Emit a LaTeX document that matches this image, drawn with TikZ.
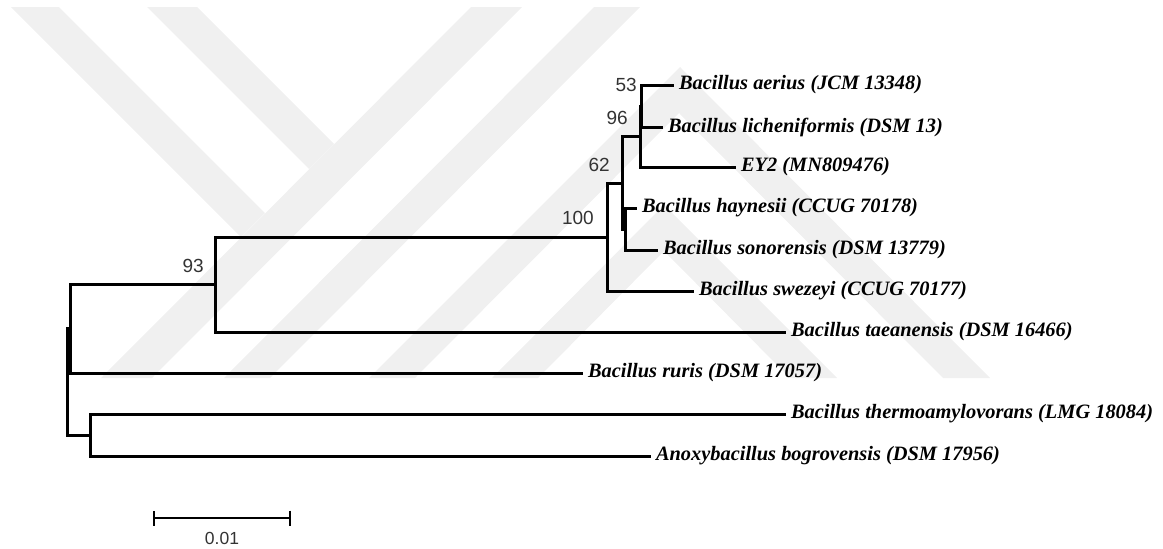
\documentclass[tikz,border=0pt]{standalone}
\usepackage{fontspec}
\setmainfont{Liberation Serif}
\newfontfamily\bootfont{Liberation Sans}
\usetikzlibrary{arrows.meta, calc}

\begin{document}
\begin{tikzpicture}[x=1pt, y=-1pt,
  wmark/.style={fill=black!6},
  branch/.style={line width=3pt, line join=miter},
  leaf/.style={anchor=west, inner sep=0pt, outer sep=5pt, font=\fontsize{20.4}{22}\selectfont\bfseries\itshape},
  boot/.style={anchor=east, inner sep=0pt, font=\bootfont\fontsize{19}{21}\selectfont, text=black!80},
  scalebar/.style={line width=2pt, {Bar[width=15pt]}-{Bar[width=15pt]}}]
\useasboundingbox (0,0) rectangle (1163,549);

% watermark in the background
\fill[wmark] (471,7) -- (522,7) -- (152,378) -- (101,378) -- cycle;
\fill[wmark] (11,7) -- (59,7) -- (265,213) -- (241,237) -- cycle;
\fill[wmark] (147,7) -- (197,7) -- (334,144) -- (309,169) -- cycle;
\fill[wmark] (594,7) -- (640,7) -- (270,378) -- (224,378) -- cycle;
\fill[wmark] (369,378) -- (680,67) -- (990,378) -- (943,378) -- (679,113) -- (415,378) -- cycle;
\fill[wmark] (492,378) -- (664,205) -- (837,378) -- (790,378) -- (664,251) -- (538,378) -- cycle;

% inner nodes of the tree
\coordinate (root) at (67,381.9);
\coordinate (nA) at (70,328.75);
\coordinate (n93) at (215,284.5);
\coordinate (n100) at (607,237);
\coordinate (n62) at (622,183);
\coordinate (n96) at (640,136.5);
\coordinate (n53) at (641,106);
\coordinate (nHS) at (625,229);
\coordinate (nTB) at (90,435);

% leaves
\node[leaf] (aerius) at (674,85) {Bacillus aerius (JCM 13348)};
\node[leaf] (lichen) at (663,127) {Bacillus licheniformis (DSM 13)};
\node[leaf] (ey2) at (736,167) {EY2 (MN809476)};
\node[leaf] (hayn) at (637,208) {Bacillus haynesii (CCUG 70178)};
\node[leaf] (sonor) at (658,250) {Bacillus sonorensis (DSM 13779)};
\node[leaf] (swez) at (694,291) {Bacillus swezeyi (CCUG 70177)};
\node[leaf] (taean) at (786,332) {Bacillus taeanensis (DSM 16466)};
\node[leaf] (ruris) at (583,373) {Bacillus ruris (DSM 17057)};
\node[leaf] (thermo) at (786,414) {Bacillus thermoamylovorans (LMG 18084)};
\node[leaf] (bogro) at (651,456) {Anoxybacillus bogrovensis (DSM 17956)};

% branches
\draw[branch] (n53) |- (aerius.west);
\draw[branch] (n53) |- (lichen.west);
\draw[branch] (n96) |- (n53);
\draw[branch] (n96) |- (ey2.west);
\draw[branch] (nHS) |- (hayn.west);
\draw[branch] (nHS) |- (sonor.west);
\draw[branch] (n62) |- (n96);
\draw[branch] (n62) |- (nHS);
\draw[branch] (n100) |- (n62);
\draw[branch] (n100) |- (swez.west);
\draw[branch] (n93) |- (n100);
\draw[branch] (n93) |- (taean.west);
\draw[branch] (nA) |- (n93);
\draw[branch] (nA) |- (ruris.west);
\draw[branch] (nTB) |- (thermo.west);
\draw[branch] (nTB) |- (bogro.west);
\draw[branch] (root) |- (nA);
\draw[branch] (root) |- (nTB);

% bootstrap values
\node[boot] at (637,85) {53};
\node[boot] at (628,118) {96};
\node[boot] at (610,165) {62};
\node[boot] at (594,218) {100};
\node[boot] at (204,266) {93};

% scale bar
\coordinate (sbL) at (153,518);
\coordinate (sbR) at (291,518);
\draw[scalebar] (sbL) -- (sbR);
\node[font=\bootfont\fontsize{17.5}{19}\selectfont, text=black!80, inner sep=0pt] at (222,538) {0.01};
\end{tikzpicture}
\end{document}
